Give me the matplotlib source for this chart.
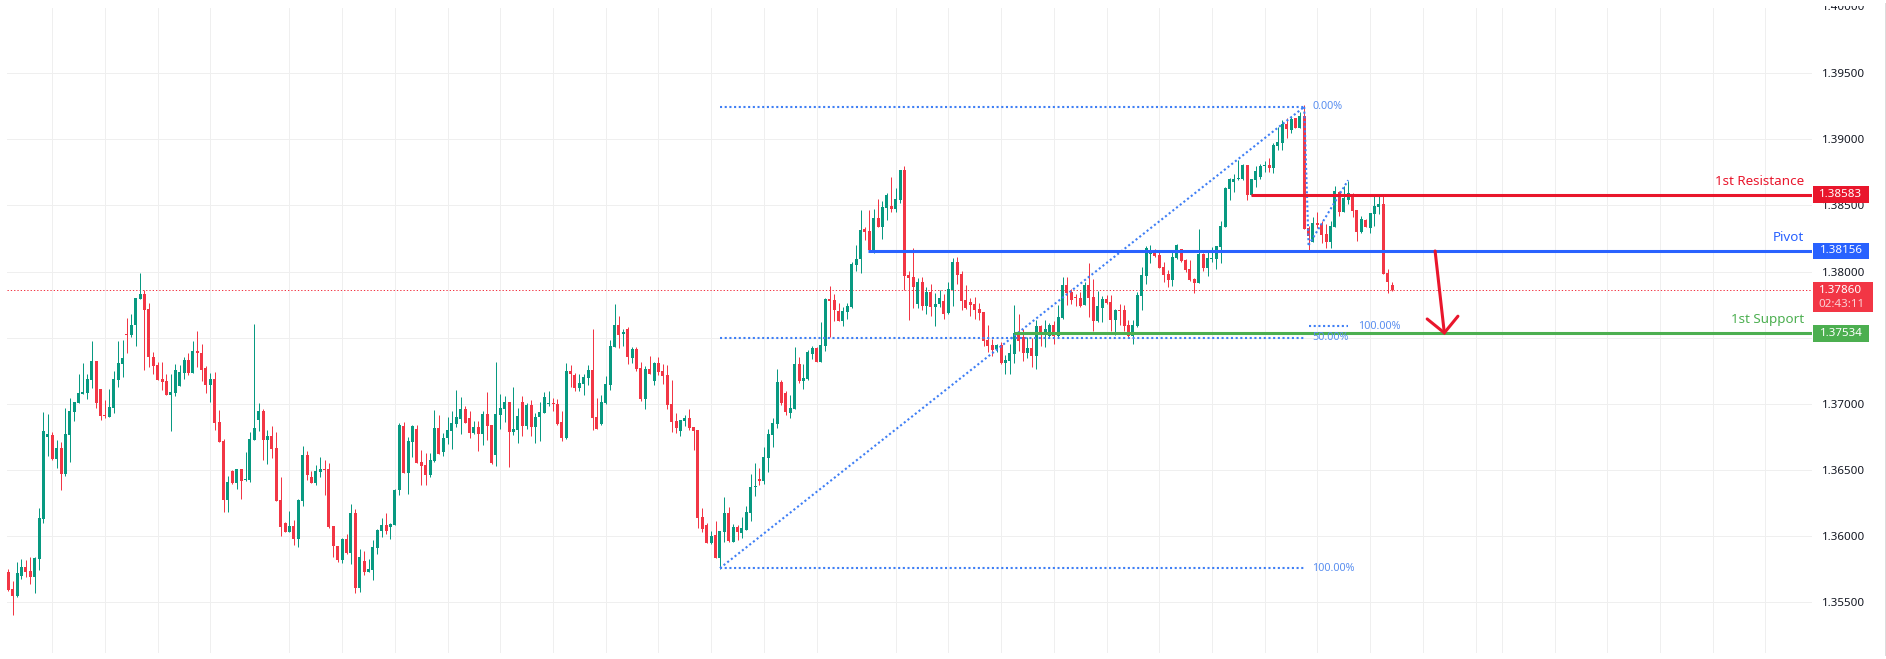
import matplotlib
matplotlib.use("Agg")
import matplotlib.pyplot as plt
import numpy as np
from matplotlib.lines import Line2D
from matplotlib.patches import Rectangle
from matplotlib.transforms import Bbox

plt.rcParams['font.family'] = ['Noto Sans', 'DejaVu Sans']

# Prices in points (1 point = 0.00001)
opens_pts = [
135729,135601,135548,135699,135767,135737,135691,135827,136130,136750,
136765,136583,136667,136470,136765,136939,137007,137075,137082,137181,
137324,137113,136916,136901,136969,137181,137302,137528,137521,137596,
137793,137831,137717,137354,137294,137188,137173,137067,137082,137135,
137234,137332,137234,137400,137385,137271,137143,137188,136863,136719,
136273,136493,136402,136508,136425,136425,136727,136878,136946,136727,
136757,136667,136273,136100,136031,136077,135979,136266,136614,136447,
136402,136485,136508,136508,136077,135926,135820,135979,135873,136175,
135608,135812,135729,135744,135911,136039,136084,136069,136084,136349,
136833,136478,136712,136810,136561,136538,136462,136568,136818,136636,
136742,136795,136848,136886,136961,136893,136780,136825,136772,136924,
136840,136614,136916,136961,137014,136787,136803,137014,136833,136992,
136825,136901,136931,136997,137007,136999,136863,136742,137249,137218,
137120,137150,137196,137256,136901,136848,137007,137143,137430,137596,
137528,137566,137347,137415,137271,137037,137264,137173,137309,137249,
137218,136999,136871,136795,136871,136893,136825,136803,136145,136084,
135948,136009,135835,136031,136175,135956,136069,136024,136047,136175,
136372,136432,136417,136591,136765,136848,137165,137082,136931,136961,137302,
137170,137186,137375,137420,137314,137435,137790,137783,137700,
137624,137692,137730,138047,138093,138320,138304,138146,138403,138335,
138478,138493,138471,138539,138766,137972,137957,137753,137919,137737,
137843,137730,137753,137775,137685,137858,138070,137979,137783,137768,
137753,137715,137692,137480,137443,137412,137443,137307,137322,137375,
137541,137503,137382,137420,137359,137586,137518,137511,137594,137511,
137647,137896,137843,137805,137798,137745,137896,137805,137624,137722,
137790,137768,137632,137707,137707,137594,137511,137586,137813,137964,
138136,138153,138123,138032,137979,137934,138100,138168,138085,138017,
137942,137911,138131,138025,138093,138093,138183,138335,138622,138675,
138698,138698,138803,138577,138690,138713,138796,138803,138781,138947,
138970,139113,139068,139159,139083,139174,138327,138221,138365,138357,
138282,138221,138335,138599,138448,138539,138584,138463,138297,138388,
138327,138433,138486,138509,137987,137896]

highs_pts = [
135752,135661,135805,135827,135820,135842,135842,136213,136939,136924,
136787,136727,136712,136969,137045,137014,137226,137309,137226,137475,
137324,137113,137029,137113,137249,137475,137483,137649,137680,137801,
137990,137861,137763,137392,137317,137317,137226,137226,137302,137294,
137354,137385,137475,137551,137453,137286,137234,137241,136954,136735,
136455,136500,136508,136508,136636,136787,137604,137007,136961,136803,
136833,136787,136447,136107,136190,136122,136281,136682,136644,136493,
136538,136598,136576,136553,136077,135926,135986,136016,136243,136205,
135903,135888,135827,135971,136054,136137,136175,136100,136357,136856,
136863,136750,136840,136840,136651,136629,136629,136954,136916,136780,
136901,136946,137105,137052,136984,136946,136871,136871,136946,137090,
136840,137317,137075,137060,137014,137128,136969,137060,137007,137029,
136931,137014,137090,137097,137045,137037,136946,137309,137294,137234,
137226,137226,137294,137566,137045,137067,137211,137483,137755,137664,
137566,137581,137430,137430,137317,137286,137362,137317,137354,137302,
137294,137181,136931,136878,136916,136961,136825,136803,136213,136100,
136039,136115,136039,136296,136220,136092,136084,136145,136228,136470,
136553,136515,136674,136810,136893,137264,137181,137097,137067,137430,137354,
137299,137405,137435,137427,137616,137798,137889,137828,137760,
137730,137760,138070,138199,138463,138335,138463,138471,138546,138531,
138592,138713,138630,138766,138796,138002,138176,137949,137957,137881,
137904,137836,137858,137828,137919,138100,138108,138002,137896,137798,
137805,137760,137692,137594,137488,137450,137465,137367,137450,137745,
137677,137564,137503,137496,137632,137594,137632,137609,137624,137745,
137957,137957,137866,137828,137843,137919,138063,137942,137851,137813,
137821,137821,137715,137753,137745,137632,137632,137843,138032,138191,
138199,138171,138146,138070,138010,138153,138206,138168,138093,138085,
137949,138320,138138,138161,138183,138191,138380,138637,138705,138735,
138841,138811,138803,138698,138796,138811,138834,138856,138970,139091,
139144,139159,139174,139159,139204,139257,138342,138410,138448,138380,
138357,138380,138645,138607,138645,138682,138592,138463,138418,138395,
138441,138577,138577,138577,138017,137919]

lows_pts = [
135585,135404,135540,135676,135691,135638,135570,135744,136100,136606,
136576,136515,136349,136455,136561,136871,137007,137075,137037,137120,
136969,136878,136893,136901,136931,137128,137203,137385,137506,137438,
137793,137256,137279,137226,137181,137105,137067,136795,137060,137135,
137188,137218,137234,137279,137173,137082,137014,136803,136712,136183,
136183,136394,136357,136281,136417,136409,136727,136795,136576,136546,
136591,136266,136001,136031,136031,135933,135918,136228,136425,136402,
136387,136447,136311,136062,135842,135805,135797,135865,135790,135570,
135578,135706,135729,135669,135865,135994,136016,135979,136084,136311,
136478,136319,136598,136553,136387,136387,136447,136561,136621,136606,
136697,136659,136825,136772,136856,136742,136772,136644,136689,136727,
136546,136530,136810,136863,136523,136765,136704,136757,136810,136757,
136704,136719,136931,136984,136946,136840,136719,136735,137128,137097,
137097,137067,137143,136803,136810,136840,136999,137105,137430,137423,
137438,137302,137309,137249,137022,136961,137226,137143,137218,137150,
136961,136787,136780,136757,136833,136803,136651,136062,136031,135948,
135941,135835,135752,135956,135956,135956,135971,135986,136047,136115,
136304,136387,136394,136485,136674,136818,136992,136916,136893,136961,137158,
137110,137178,137337,137314,137314,137397,137503,137624,137624,
137586,137639,137722,138002,137987,138236,138161,138138,138335,138244,
138388,138448,138448,138516,137858,137632,137722,137722,137707,137677,
137662,137586,137730,137639,137677,137737,137904,137707,137715,137662,
137639,137632,137435,137390,137359,137390,137299,137223,137223,137307,
137397,137322,137344,137276,137261,137435,137427,137503,137450,137503,
137639,137745,137753,137737,137730,137745,137654,137548,137616,137616,
137753,137548,137518,137594,137548,137496,137450,137579,137707,137904,
138063,138108,138025,137919,137881,137889,138093,138070,137994,137926,
137836,137911,138002,137964,138070,138017,138063,138335,138539,138599,
138690,138695,138539,138577,138637,138698,138750,138750,138743,138917,
138917,139008,139045,139083,139083,138320,138153,138221,138327,138214,
138176,138176,138335,138418,138448,138509,138410,138229,138289,138335,
138289,138342,138433,137979,137836,137851]

closes_pts = [
135593,135548,135722,135767,135729,135691,135835,136137,136795,136772,
136583,136667,136470,136772,136946,137014,137082,137090,137188,137324,
137007,136908,136908,136976,137188,137309,137347,137521,137596,137801,
137831,137710,137354,137286,137181,137165,137067,137090,137256,137241,
137332,137234,137400,137385,137256,137143,137188,136856,136712,136273,
136409,136402,136508,136417,136432,136735,136818,136946,136727,136757,
136659,136266,136069,136031,136077,135979,136273,136614,136462,136402,
136493,136508,136500,136069,135926,135820,135979,135873,136175,135608,
135842,135729,135752,135918,136047,136084,136039,136092,136349,136840,
136478,136719,136833,136553,136530,136462,136576,136818,136621,136742,
136803,136856,136901,136961,136856,136780,136825,136772,136924,136833,
136553,136924,136969,137014,136787,136810,136908,136833,136992,136825,
136901,136939,137052,137004,136999,136848,136742,137249,137226,137120,
137158,137203,137256,136893,136810,137014,137150,137438,137596,137521,
137543,137354,137415,137264,137037,137264,137226,137309,137241,137211,
136992,136863,136818,136878,136893,136818,136795,136137,136054,135948,
136001,135835,136039,136175,135963,136069,136031,136062,136183,136372,
136379,136417,136598,136772,136856,137165,137007,136939,136969,137302,137173,
137193,137390,137420,137314,137443,137790,137775,137707,137624,
137700,137737,138055,138093,138312,138297,138161,138403,138335,138486,
138577,138471,138546,138766,137964,137949,137881,137919,137737,137843,
137730,137753,137798,137677,137866,138070,137972,137775,137722,137745,
137707,137685,137473,137435,137405,137443,137307,137329,137382,137533,
137473,137382,137420,137359,137586,137518,137564,137594,137511,137654,
137896,137836,137783,137798,137737,137896,137798,137624,137737,137790,
137760,137632,137707,137700,137586,137511,137594,137821,137972,138176,
138161,138115,138025,137972,137934,138108,138199,138078,138010,137934,
137911,138131,138025,138100,138100,138191,138342,138630,138698,138698,
138705,138803,138577,138698,138758,138796,138803,138781,138955,138977,
139113,139076,139151,139083,139174,138320,138267,138365,138350,138274,
138221,138342,138607,138448,138554,138592,138456,138297,138395,138335,
138441,138493,138509,137979,137919,137858]

price_ticks = [1.355, 1.36, 1.365, 1.37, 1.375, 1.38, 1.385, 1.39, 1.395]
hidden_tick = 1.375   # its label sits behind the support tag
top_tick = 1.40
time_grid = [10,22,34,46,64,76,88,100,112,124,136,148,160,172,184,202,214,226,238,
             250,262,274,286,298,310,322,334,340,352,364,376,388,400]

resistance, pivot, support, last_price = 1.38583, 1.38156, 1.37534, 1.37860
countdown = "02:43:11"
resistance_start, pivot_start, support_start = 283, 195.6, 229

fib_i0, fib_i1 = 162, 295
fib_low, fib_high = 1.35758, 1.39245
fib_mid = (fib_low + fib_high) / 2
fib2_i0, fib2_i1 = 296, 305
fib2_p0, fib2_p1, fib2_level = 1.38200, 1.38691, 1.37587

arrow_shaft_i = [324.8, 326.9]
arrow_shaft_p = [pivot, 1.37537]
arrow_head_i = [323, 326.9, 330]
arrow_head_p = [1.37642, 1.37537, 1.37663]

UP, DOWN = '#089981', '#f23645'
RED, BLUE, GREEN = '#e9162c', '#2962ff', '#4caf50'
FIB = '#3f7ff5'
FIBTXT = '#5a8ff0'

W, H = 1886, 659
fig = plt.figure(figsize=(W/100, H/100), dpi=100, facecolor='white')
ax = fig.add_axes([7/W, 1-652.7/H, (1812-7)/W, (652.7-8)/H])
ax.set_xlim(-0.296, 410.6)
ax.set_ylim(1.35119, 1.39993)
for s in ax.spines.values():
    s.set_visible(False)
ax.set_axisbelow(True)
ax.set_xticks(time_grid)
ax.set_yticks(price_ticks)
ax.set_yticklabels(["" if v == hidden_tick else f"{v:.5f}" for v in price_ticks])
ax.grid(True, color='#efefef', linewidth=0.72)
ax.tick_params(axis='both', length=0, labelbottom=False, labelleft=False)
ax.tick_params(axis='y', labelright=True, labelsize=8.3, labelcolor='#131722', pad=7)

o, h, l, c = [np.array(a) / 1e5 for a in (opens_pts, highs_pts, lows_pts, closes_pts)]
idx = np.arange(len(o))
col = np.where(c >= o, UP, DOWN)

ax.hlines(last_price, -0.296, 410.6, colors=DOWN, linewidth=0.72,
          linestyles=(0, (1.3, 2.0)), zorder=1.8)
ax.vlines(idx, l, h, colors=col, linewidth=0.72, zorder=2)
ax.bar(idx, np.maximum(np.abs(c-o), 0.00008), bottom=np.minimum(o, c), width=0.683,
       color=col, linewidth=0, zorder=2.1)

dots = (0, (1.0, 1.25))
fib_kw = dict(color=FIB, linewidth=1.5, linestyle=dots, zorder=3)
ax.plot([fib_i0, fib_i1], [fib_low, fib_low], **fib_kw)
ax.plot([fib_i0, fib_i1], [fib_mid, fib_mid], **fib_kw)
ax.plot([fib_i0, fib_i1], [fib_high, fib_high], **fib_kw)
ax.plot([fib_i0, fib_i1], [fib_low, fib_high], **fib_kw)
ax.plot([fib_i1, fib2_i0], [fib_high, fib2_p0], **fib_kw)
ax.plot([fib2_i0, fib2_i1], [fib2_p0, fib2_p1], **fib_kw)
ax.plot([fib2_i0, fib2_i1], [fib2_level, fib2_level], **fib_kw)

lab_kw = dict(color=FIBTXT, fontsize=7.8, va='center', ha='left', zorder=5)
ax.text(fib_i1+1.8, fib_high, "0.00%", **lab_kw)
ax.text(fib_i1+1.8, fib_mid, "50.00%", **lab_kw)
ax.text(fib_i1+1.8, fib_low, "100.00%", **lab_kw)
ax.text(fib2_i1+2.3, fib2_level, "100.00%", **lab_kw)

right = 410.6
for start, level, colr, name in [(resistance_start, resistance, RED, "1st Resistance"),
                                 (pivot_start, pivot, BLUE, "Pivot"),
                                 (support_start, support, GREEN, "1st Support")]:
    ax.plot([start, right], [level, level], color=colr, linewidth=2.2,
            solid_capstyle='butt', zorder=4)
    ax.text(408.8, level + 0.00102, name, color=colr, fontsize=9.7,
            ha='right', va='center', zorder=5)
    ax.add_patch(Rectangle((410.8, level - 0.000631), 12.75, 0.001262, facecolor=colr,
                           edgecolor='none', clip_on=False, zorder=6))
    ax.text(417.2, level, f"{level:.5f}", color='white', fontsize=8.3, fontweight='bold',
            ha='center', va='center', clip_on=False, zorder=7)

ax.add_patch(Rectangle((410.8, last_price - 0.00167), 13.6, 0.00232, facecolor=DOWN,
                       edgecolor='none', clip_on=False, zorder=6))
ax.text(417.2, last_price, f"{last_price:.5f}", color='white', fontsize=8.3, fontweight='bold',
        ha='center', va='center', clip_on=False, zorder=7)
ax.text(417.4, last_price - 0.00106, countdown, color='#fbd0d4', fontsize=8.3,
        ha='center', va='center', clip_on=False, zorder=7)

ax.plot(arrow_shaft_i, arrow_shaft_p, color=RED, linewidth=2.2, solid_capstyle='round', zorder=6)
ax.plot(arrow_head_i, arrow_head_p, color=RED, linewidth=2.2, solid_capstyle='round',
        solid_joinstyle='miter', zorder=6)

t = fig.text(412.9, top_tick, f"{top_tick:.5f}", transform=ax.transData, fontsize=8.3,
             color='#131722', ha='left', va='center')
t.set_clip_on(True)
t.set_clip_box(Bbox([[1800, 0], [W, H-6]]))

fig.add_artist(Line2D([1884.7/W]*2, [1-655/H, 1-3/H], transform=fig.transFigure,
                      color='#dcdcdc', linewidth=0.72))

fig.savefig('out.png', dpi=100, facecolor='white')
